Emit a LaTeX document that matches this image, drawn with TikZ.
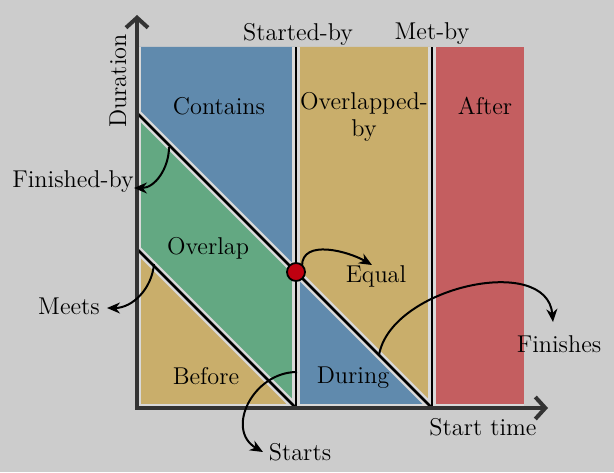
\documentclass[tikz,border=0pt]{standalone}
\usepackage{fontspec}
\usetikzlibrary{arrows.meta}
\definecolor{bgc}{HTML}{CCCCCC}
\definecolor{halo}{HTML}{D9D9D9}
\definecolor{cblue}{HTML}{608AAD}
\definecolor{cgreen}{HTML}{63A882}
\definecolor{ctan}{HTML}{C9AE6B}
\definecolor{cred}{HTML}{C45E60}
\definecolor{cdot}{HTML}{C00010}
\definecolor{axisc}{HTML}{333333}
\begin{document}
\begin{tikzpicture}[x=0.5pt,y=0.5pt,
  lbl/.style={font=\fontsize{12.15}{13.5}\selectfont, inner sep=1pt, text=black},
  haloline/.style={draw=halo, line width=3.8pt},
  bline/.style={draw=black, line width=1.35pt},
  arr/.style={draw=black, line width=1pt, -{Stealth[length=6.5pt,width=5.5pt]}},
  axisline/.style={draw=axisc, line width=2pt, line join=miter,
    {Straight Barb[length=5pt,width=11pt]}-{Straight Barb[length=5pt,width=11pt]}}]
\fill[bgc] (0,0) rectangle (614,472);
\useasboundingbox (0,0) rectangle (614,472);
% key points
\coordinate (O) at (137,64);
\coordinate (A) at (296,64);
\coordinate (B) at (432,64);
\coordinate (D1) at (137,359);
\coordinate (D2) at (137,223);
\coordinate (TL) at (137,425);
\coordinate (TA) at (296,425);
\coordinate (TB) at (432,425);
\coordinate (TR) at (524,425);
\coordinate (BR) at (524,64);
\coordinate (E) at (296,200);
\coordinate (YT) at (137,457);
\coordinate (XR) at (548,64);
% fills
\fill[cblue] (TL) -- (TA) -- (E) -- (D1) -- cycle;
\fill[cgreen] (D1) -- (E) -- (A) -- (D2) -- cycle;
\fill[ctan] (D2) -- (A) -- (O) -- cycle;
\fill[ctan] (TA) -- (TB) -- (B) -- (E) -- cycle;
\fill[cblue] (E) -- (B) -- (A) -- cycle;
\fill[cred] (TB) -- (TR) -- (BR) -- (B) -- cycle;
% halos
\begin{scope}
\clip (O) rectangle (TR);
\draw[haloline] (D1) -- (B);
\draw[haloline] (D2) -- (A);
\draw[haloline] (A) -- (TA);
\draw[haloline] (B) -- (TB);
\draw[haloline] (TL) -- (O) -- (BR);
\end{scope}
% black lines
\draw[bline] (D1) -- (B);
\draw[bline] (D2) -- (A);
\draw[bline] (A) -- (TA);
\draw[bline] (B) -- (TB);
% axes
\draw[axisline] (YT) -- (O) -- (XR);
% equal dot
\node[circle, fill=cdot, draw=black, line width=0.9pt, minimum size=9pt, inner sep=0pt] (dot) at (E) {};
% labels
\node[lbl, rotate=90] (dur) at (118,391) {Duration};
\node[lbl] (startedby) at (298,438) {Started-by};
\node[lbl] (metby) at (432,438) {Met-by};
\node[lbl] (contains) at (219,366) {Contains};
\node[lbl, align=center] (overby) at (364,355) {Overlapped-\\by};
\node[lbl] (after) at (485,366) {After};
\node[lbl] (finby) at (73,290) {Finished-by};
\node[lbl] (overlap) at (208,224) {Overlap};
\node[lbl] (equal) at (376,196) {Equal};
\node[lbl] (meets) at (69,166) {Meets};
\node[lbl] (before) at (206,96) {Before};
\node[lbl] (during) at (353,94) {During};
\node[lbl] (finishes) at (559,128) {Finishes};
\node[lbl] (starttime) at (483,45) {Start time};
\node[lbl] (starts) at (300,20) {Starts};
% connector endpoints
\coordinate (fbS) at (169,325);
\coordinate (fbE) at (134,284);
\coordinate (mS) at (154,208);
\coordinate (mE) at (107,164);
\coordinate (eqS) at (302,206);
\coordinate (eqE) at (372,207);
\coordinate (fiS) at (379,117);
\coordinate (fiE) at (553,150);
\coordinate (stS) at (297,100);
\coordinate (stE) at (263,20);
% connectors
\draw[arr] (fbS) to[out=-90,in=0] (fbE);
\draw[arr] (mS) to[out=-95,in=0] (mE);
\draw[arr] (eqS) to[out=90,in=150] (eqE);
\draw[arr] (fiS) to[out=80,in=95] (fiE);
\draw[arr] (stS) to[out=180,in=150,looseness=1.3] (stE);
\end{tikzpicture}
\end{document}
